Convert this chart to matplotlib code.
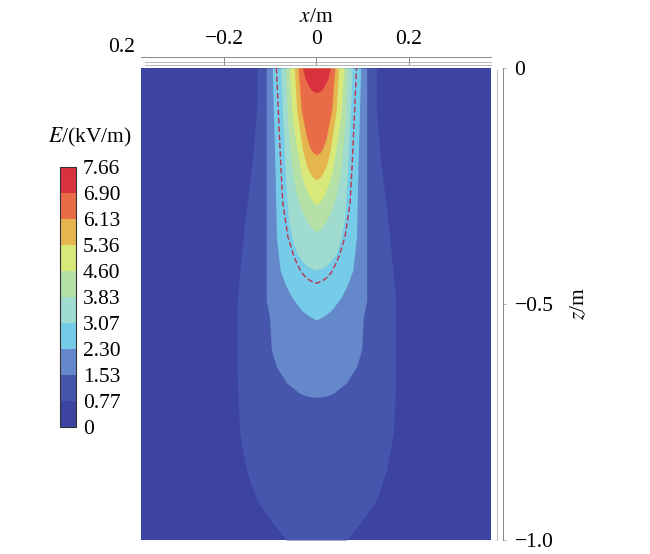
import numpy as np
import matplotlib
matplotlib.use("Agg")
import matplotlib.pyplot as plt
from matplotlib.colors import ListedColormap, BoundaryNorm
from matplotlib.cm import ScalarMappable

plt.rcParams['font.family'] = ['Liberation Serif', 'DejaVu Serif']
plt.rcParams['mathtext.fontset'] = 'stix'
FS = 15.5

# contour levels of E (kV/m) and band colours
levels = [0, 0.77, 1.53, 2.30, 3.07, 3.83, 4.60, 5.36, 6.13, 6.90, 7.66]
level_labels = ['0', '0.77', '1.53', '2.30', '3.07', '3.83', '4.60', '5.36', '6.13', '6.90', '7.66']
band_colors = ['#3c43a1', '#4756ad', '#6488c9', '#76cbe8', '#9fdbcf',
               '#b5e1a6', '#d8e97a', '#e6b64e', '#e76c47', '#d8323f']

# outline of each band: depth z (m) and half width (m)
band1_z = [0, -0.089, -0.195, -0.337, -0.492, -0.661, -0.773, -0.852, -0.915, -0.958, -1.0]
band1_hw = [0.130, 0.130, 0.139, 0.157, 0.172, 0.172, 0.167, 0.152, 0.130, 0.100, 0.065]

band2_z = [0, -0.492, -0.528, -0.597, -0.633, -0.667, -0.689, -0.695, -0.698]
band2_hw = [0.109, 0.109, 0.102, 0.098, 0.087, 0.065, 0.037, 0.022, 0.0]

band3_z = [0, -0.216, -0.358, -0.428, -0.460, -0.485, -0.513, -0.525, -0.534]
band3_hw = [0.096, 0.090, 0.087, 0.079, 0.067, 0.054, 0.033, 0.017, 0.0]

band4_z = [0, -0.216, -0.322, -0.364, -0.392, -0.411, -0.422, -0.428]
band4_hw = [0.078, 0.068, 0.061, 0.052, 0.043, 0.030, 0.017, 0.0]

band5_z = [0, -0.110, -0.216, -0.269, -0.301, -0.326, -0.341, -0.347]
band5_hw = [0.067, 0.063, 0.053, 0.043, 0.033, 0.020, 0.009, 0.0]

band6_z = [0, -0.110, -0.216, -0.248, -0.269, -0.282, -0.290]
band6_hw = [0.059, 0.052, 0.035, 0.026, 0.017, 0.009, 0.0]

band7_z = [0, -0.089, -0.174, -0.206, -0.220, -0.231, -0.237]
band7_hw = [0.048, 0.043, 0.030, 0.022, 0.015, 0.009, 0.0]

band8_z = [0, -0.089, -0.125, -0.153, -0.172, -0.180, -0.184]
band8_hw = [0.040, 0.033, 0.026, 0.020, 0.013, 0.007, 0.0]

band9_z = [0, -0.025, -0.038, -0.047, -0.053]
band9_hw = [0.030, 0.024, 0.017, 0.011, 0.0]

# dashed threshold line
dash_z = [0, -0.216, -0.286, -0.358, -0.396, -0.413, -0.432, -0.443, -0.451, -0.456]
dash_hw = [0.087, 0.077, 0.073, 0.062, 0.050, 0.043, 0.033, 0.024, 0.013, 0.0]

bands = [(band1_z, band1_hw), (band2_z, band2_hw), (band3_z, band3_hw),
         (band4_z, band4_hw), (band5_z, band5_hw), (band6_z, band6_hw),
         (band7_z, band7_hw), (band8_z, band8_hw), (band9_z, band9_hw)]

fig = plt.figure(figsize=(6.5, 5.54), dpi=100)
ax = fig.add_axes([141/650, 14/554, 350/650, 472/554])
ax.set_facecolor(band_colors[0])

for i, (bz, bhw) in enumerate(bands):
    bz = np.array(bz)
    bhw = np.array(bhw)
    ax.fill_betweenx(bz, -bhw, bhw, color=band_colors[i + 1], lw=0)

dz = np.array(dash_z)
dhw = np.array(dash_hw)
ax.plot(np.concatenate([-dhw, dhw[::-1]]), np.concatenate([dz, dz[::-1]]),
        color='#b8354f', lw=1.0, ls=(0, (4, 2)))

ax.set_xlim(-0.381, 0.379)
ax.set_ylim(-1.0, 0)

# top x axis, drawn like the edge of a 3D box
for s in ['left', 'bottom']:
    ax.spines[s].set_visible(False)
ax.spines['top'].set_position(('outward', 8))
ax.spines['top'].set_color('#888888')
ax.spines['top'].set_linewidth(0.7)
ax.xaxis.tick_top()
ax.xaxis.set_label_position('top')
ax.set_xticks([-0.2, 0, 0.2])
ax.set_xticklabels(['\u22120.2', '0', '0.2'])
ax.tick_params(axis='x', direction='in', length=6, width=0.6, colors='#777777',
               labelcolor='black', labelsize=FS, pad=5.5)
ax.set_xlabel('$x$/m', fontsize=FS, labelpad=6)
for dy in [6, 3]:
    ax.plot([0.01, 1.0], [1 + dy / 472, 1 + dy / 472], transform=ax.transAxes,
            clip_on=False, color='#aaaaaa', lw=0.6)

# right z axis
ax.spines['right'].set_position(('outward', 9))
ax.spines['right'].set_color('#888888')
ax.spines['right'].set_linewidth(0.7)
ax.yaxis.tick_right()
ax.yaxis.set_label_position('right')
ax.set_yticks([0, -0.5, -1.0])
ax.set_yticklabels(['0', '\u22120.5', '\u22121.0'])
ax.tick_params(axis='y', direction='out', length=2, width=0.5, colors='#999999',
               labelcolor='black', labelsize=FS, pad=6)
ax.set_ylabel('$z$/m', fontsize=FS, labelpad=12)
for dx in [6, 12]:
    ax.plot([1 + dx / 350, 1 + dx / 350], [0.0, 0.995], transform=ax.transAxes,
            clip_on=False, color='#aaaaaa', lw=0.6)

fig.text(122/650, 1 - 48/554, '0.2', fontsize=FS, ha='center', va='center')

# colour bar
cax = fig.add_axes([60/650, 1 - 426.7/554, 16/650, 260/554])
cmap = ListedColormap(band_colors)
norm = BoundaryNorm(levels, cmap.N)
cb = fig.colorbar(ScalarMappable(norm=norm, cmap=cmap), cax=cax, ticks=levels)
cb.ax.set_yticklabels(level_labels)
cb.ax.tick_params(length=0, labelsize=FS, pad=5)
cb.outline.set_linewidth(0.8)
cb.outline.set_edgecolor('#333333')
fig.text(90/650, 1 - 137/554, '$E$/(kV/m)', fontsize=FS, ha='center', va='center')

fig.savefig('out.png', dpi=100)
